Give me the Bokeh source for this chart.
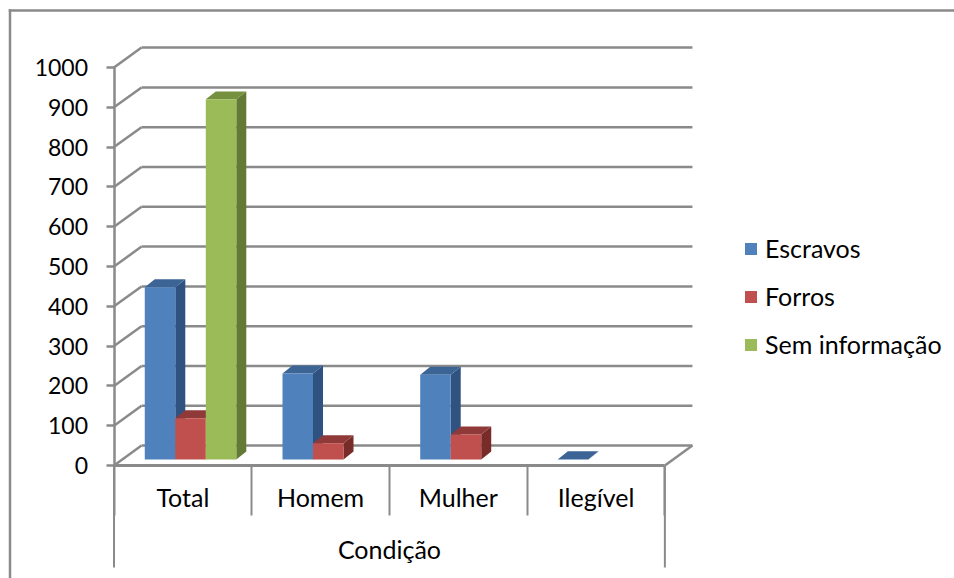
from bokeh.embed import file_html
from bokeh.resources import INLINE
from bokeh.plotting import figure
from bokeh.models import FixedTicker, Legend, LegendItem, Range1d, Label

# ---- data
categories = ["Total", "Homem", "Mulher", "Ilegível"]
series_names = ["Escravos", "Forros", "Sem informação"]
escravos = [433, 216, 213, 1]
forros = [104, 41, 63, None]
sem_informacao = [905, None, None, None]
value_ticks = [0, 100, 200, 300, 400, 500, 600, 700, 800, 900, 1000]

# ---- styling
FRONT = ["#4f81bd", "#c0504d", "#9bbb59"]
TOP = ["#3c6494", "#8f3a38", "#75903f"]
SIDE = ["#2f5280", "#772c2a", "#637a35"]
GREY = "#8a8a8a"
FONT = "Lato"
FS = "25px"
FS_NUM = "23px"
LW = 2.5

# ---- layout: pixel geometry of the page
W, H = 954, 578
PAGE = 0
X0, CAT_W = 113.5, 137.72      # page x of category 0, pixels per category
Y0, PX_PER = 465.0, 0.398      # page y of value 0, pixels per value unit
WALL_DX, WALL_DV = 0.2, 50.0   # wall depth
BAR_DX, BAR_DV = 0.0726, 20.0  # bar depth
BAR_W, BAR_OFF, BAR_BASE = 0.2215, 0.2235, 15.0


def cx(px):
    return (px - X0) / CAT_W


def vy(py):
    return (Y0 - py) / PX_PER


p = figure(width=W, height=H, output_backend="svg", toolbar_location=None,
           x_range=Range1d(cx(PAGE), cx(PAGE + W)),
           y_range=Range1d(vy(PAGE + H), vy(PAGE)),
           min_border=0, min_border_left=0, min_border_right=0,
           min_border_top=0, min_border_bottom=0,
           background_fill_color="white", border_fill_color="white")
p.outline_line_color = None
p.grid.visible = False

# outer chart frame: runs off the right and bottom of the picture
p.segment([cx(9.5), cx(9.5)], [vy(10), vy(10)], [cx(W), cx(9.5)], [vy(10), vy(H)],
          line_color=GREY, line_width=LW, line_cap="square")

# walls: gridlines with a receding diagonal
n = len(categories)
p.segment([0] * len(value_ticks), value_ticks,
          [WALL_DX] * len(value_ticks), [v + WALL_DV for v in value_ticks],
          line_color=GREY, line_width=LW)
p.segment([WALL_DX] * len(value_ticks), [v + WALL_DV for v in value_ticks],
          [n + WALL_DX] * len(value_ticks), [v + WALL_DV for v in value_ticks],
          line_color=GREY, line_width=LW)
p.segment([n], [0], [n + WALL_DX], [WALL_DV], line_color=GREY, line_width=LW)

# outer category bracket
p.segment([0, n], [0, 0], [0, n], [vy(567), vy(567)], line_color=GREY, line_width=2)

# bars
legend_items = []
for s, (name, vals) in enumerate(zip(series_names, [escravos, forros, sem_informacao])):
    idx = [i for i, v in enumerate(vals) if v is not None]
    left = [i + BAR_OFF + s * BAR_W for i in idx]
    right = [x + BAR_W for x in left]
    bottom = [BAR_BASE] * len(idx)
    top = [BAR_BASE + vals[i] for i in idx]
    side_x = [[r, r + BAR_DX, r + BAR_DX, r] for r in right]
    side_y = [[b, b + BAR_DV, t + BAR_DV, t] for b, t in zip(bottom, top)]
    top_x = [[l, l + BAR_DX, r + BAR_DX, r] for l, r in zip(left, right)]
    top_y = [[t, t + BAR_DV, t + BAR_DV, t] for t in top]
    p.patches(side_x, side_y, fill_color=SIDE[s], line_color=None)
    p.patches(top_x, top_y, fill_color=TOP[s], line_color=None)
    r = p.quad(left=left, right=right, bottom=bottom, top=top,
               fill_color=FRONT[s], line_color=None)
    legend_items.append(LegendItem(label=name, renderers=[r]))

# value axis
ya = p.yaxis[0]
ya.fixed_location = 0
ya.bounds = (0, 1000)
ya.ticker = FixedTicker(ticks=value_ticks)
ya.axis_line_color = GREY
ya.axis_line_width = LW
ya.major_tick_line_color = GREY
ya.major_tick_line_width = LW
ya.major_tick_in = 0
ya.major_tick_out = 8
ya.minor_tick_line_color = None
ya.major_label_standoff = 18
ya.major_label_text_font = FONT
ya.major_label_text_font_size = FS_NUM
ya.major_label_text_color = "#000000"

# category axis
xa = p.xaxis[0]
xa.fixed_location = 0
xa.bounds = (0, n)
xa.ticker = FixedTicker(ticks=[i + 0.5 for i in range(n)], minor_ticks=list(range(n + 1)))
xa.major_label_overrides = {i + 0.5: c for i, c in enumerate(categories)}
xa.axis_line_color = GREY
xa.axis_line_width = 3
xa.major_tick_line_color = None
xa.major_tick_in = 0
xa.major_tick_out = 0
xa.minor_tick_line_color = GREY
xa.minor_tick_line_width = 2
xa.minor_tick_in = 0
xa.minor_tick_out = 50
xa.major_label_standoff = -34
xa.major_label_text_font = FONT
xa.major_label_text_font_size = FS
xa.major_label_text_color = "#000000"

p.add_layout(Label(x=n / 2, y=vy(548), text="Condição", text_font=FONT,
                   text_font_size=FS, text_color="#000000",
                   text_align="center", text_baseline="middle"))

legend = Legend(items=legend_items, location=(743, H - 242 - 117), orientation="vertical",
                border_line_color=None, background_fill_alpha=0, padding=0, margin=0,
                glyph_width=15, glyph_height=15, label_standoff=7, spacing=18,
                label_text_font=FONT, label_text_font_size=FS, label_text_color="#000000")
p.add_layout(legend)

open("out.html", "w").write(file_html(p, INLINE))
